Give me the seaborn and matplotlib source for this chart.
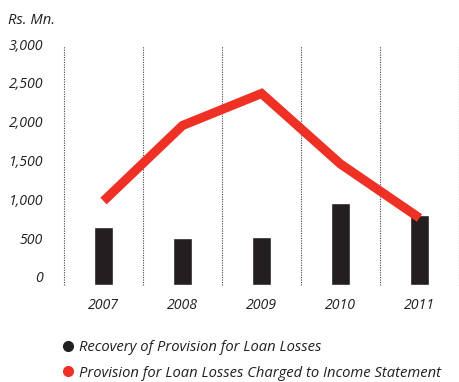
import matplotlib
matplotlib.use("Agg")
import matplotlib.pyplot as plt
import matplotlib.transforms as mtransforms
from matplotlib.lines import Line2D
import pandas as pd
import seaborn as sns

# Annual figures (Rs. Mn.)
years = ["2007", "2008", "2009", "2010", "2011"]
recovery = [728, 590, 602, 1029, 879]
provision = [1054, 2002, 2404, 1519, 841]

y_ticks = [0, 500, 1000, 1500, 2000, 2500, 3000]
y_tick_labels = ["0", "500", "1,000", "1,500", "2,000", "2,500", "3,000"]
unit_label = "Rs. Mn."
legend_labels = [
    "Recovery of Provision for Loan Losses",
    "Provision for Loan Losses Charged to Income Statement",
]

bar_color = "#231f20"
line_color = "#ee3124"
text_color = "#231f20"

sns.set_theme(style="white")
plt.rcParams["font.family"] = ["Open Sans", "DejaVu Sans"]
plt.rcParams["font.style"] = "italic"

df = pd.DataFrame({"year": years, "recovery": recovery, "provision": provision})

W, H = 459, 382
fig = plt.figure(figsize=(W / 100, H / 100), dpi=100)
ax = fig.add_axes([64 / W, (H - 285) / H, 395 / W, 239 / H])

sns.barplot(data=df, x="year", y="recovery", color=bar_color, width=0.228,
            saturation=1, ax=ax, zorder=2)
sns.lineplot(data=df, x="year", y="provision", color=line_color, linewidth=6.6,
             sort=False, ax=ax, solid_capstyle="butt", solid_joinstyle="miter",
             zorder=3)

ax.set_xlim(-0.5, len(years) - 0.5)
ax.set_ylim(0, 3000)

# dotted separators between the years
for i in range(len(years) + 1):
    ax.axvline(i - 0.5, color="#444444", linestyle=(0, (1, 1.2)), linewidth=0.8,
               zorder=1, clip_on=False)

for s in ax.spines.values():
    s.set_visible(False)
ax.set_xlabel("")
ax.set_ylabel("")
ax.set_yticks(y_ticks)
ax.set_yticklabels(y_tick_labels)
ax.tick_params(axis="both", length=0, labelsize=10.2, colors=text_color)
ax.tick_params(axis="y", pad=15)
ax.tick_params(axis="x", pad=9.5)
# value labels sit slightly above their gridline, more so near the baseline
for tick_val, lbl in zip(y_ticks, ax.get_yticklabels()):
    dy = (8 - 6 * tick_val / y_ticks[-1]) / 100
    lbl.set_transform(lbl.get_transform()
                      + mtransforms.ScaledTranslation(0, dy, fig.dpi_scale_trans))

fig.text(8 / W, 1 - 20 / H, unit_label, ha="left", va="center",
         fontsize=10.6, color=text_color)

handles = [
    Line2D([], [], marker="o", linestyle="", markersize=7, color=bar_color),
    Line2D([], [], marker="o", linestyle="", markersize=7, color=line_color),
]
fig.legend(handles, legend_labels, loc="upper left",
           bbox_to_anchor=(62.5 / W, 1 - 340 / H), frameon=False,
           fontsize=10.6, handlelength=0.75, handletextpad=0.4, borderpad=0,
           borderaxespad=0, labelspacing=0.72, labelcolor=text_color)

fig.savefig("out.png", dpi=100)
